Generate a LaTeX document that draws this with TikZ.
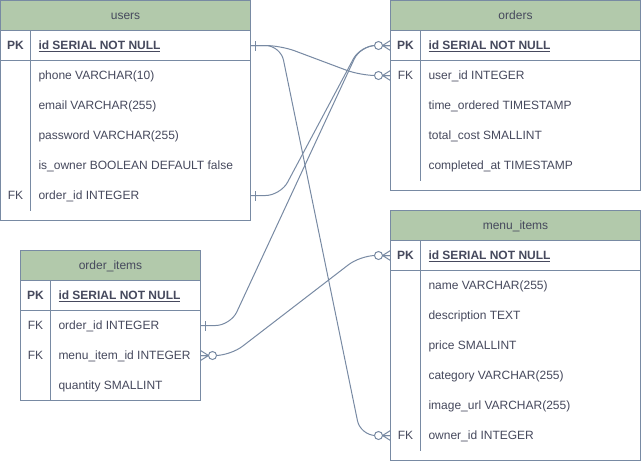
\documentclass[tikz,border=0pt]{standalone}
\usepackage{fontspec}
\setmainfont{Liberation Sans}
\definecolor{erline}{HTML}{788AA3}
\definecolor{erhead}{HTML}{B2C9AB}
\definecolor{ertext}{HTML}{46495D}
\tikzset{
  tbl/.style={draw=erline, line width=1pt, fill=white, inner sep=0pt, anchor=north west},
  hdr/.style={draw=erline, line width=1pt, fill=erhead, inner sep=0pt, anchor=north west,
              minimum height=30pt, text=ertext, text height=9pt, text depth=0.5pt},
  rowbox/.style={inner sep=0pt, anchor=north west, minimum height=30pt},
  keyt/.style={inner sep=0pt, anchor=center, text=ertext, text height=9pt, text depth=0.5pt},
  fldt/.style={inner sep=0pt, anchor=west, text=ertext, text height=9pt, text depth=0.5pt},
  erl/.style={draw=erline, line width=1pt},
  conn/.style={draw=erline, line width=1pt, rounded corners=15pt},
  pics/crowzm/.style={code={
     \draw[erl] (0pt,-5pt) -- (8pt,0pt) -- (0pt,5pt) (0pt,0pt) -- (8pt,0pt);
     \draw[erl, fill=white] (12pt,0pt) circle[radius=4pt];
  }},
  pics/mone/.style={code={
     \draw[erl] (5pt,-5pt) -- (5pt,5pt);
  }}
}
\newcommand\erow[6]{%
  \node[rowbox, minimum width=#4pt] (#1) at (#2,#3) {};
  \node[keyt] (#1-k) at ([xshift=15pt]#1.west) {#5};
  \node[fldt] (#1-f) at ([xshift=38pt]#1.west) {#6};
}
\newcommand\pkt[1]{\underline{\textbf{#1}}}
\begin{document}
\begin{tikzpicture}[x=1pt, y=-1pt, font=\fontsize{12}{14}\selectfont,
  every node/.append style={outer sep=0pt}]
\useasboundingbox (0,0) rectangle (641,461);

% ---------------- users
\node[tbl, minimum width=250pt, minimum height=220pt] (users) at (0.5,0.5) {};
\node[hdr, minimum width=250pt] (users-h) at (0.5,0.5) {users};
\erow{users-id}{0.5}{30.5}{250}{\textbf{PK}}{\pkt{id SERIAL NOT NULL}}
\erow{users-phone}{0.5}{60.5}{250}{}{phone VARCHAR(10)}
\erow{users-email}{0.5}{90.5}{250}{}{email VARCHAR(255)}
\erow{users-password}{0.5}{120.5}{250}{}{password VARCHAR(255)}
\erow{users-owner}{0.5}{150.5}{250}{}{is\_owner BOOLEAN DEFAULT false}
\erow{users-orderid}{0.5}{180.5}{250}{FK}{order\_id INTEGER}
\draw[erl] (users-id.south west) -- (users-id.south east);
\draw[erl] ([xshift=30pt]users-id.north west) -- ++(0,180);

% ---------------- orders
\node[tbl, minimum width=250pt, minimum height=190pt] (orders) at (390.5,0.5) {};
\node[hdr, minimum width=250pt] (orders-h) at (390.5,0.5) {orders};
\erow{orders-id}{390.5}{30.5}{250}{\textbf{PK}}{\pkt{id SERIAL NOT NULL}}
\erow{orders-userid}{390.5}{60.5}{250}{FK}{user\_id INTEGER}
\erow{orders-time}{390.5}{90.5}{250}{}{time\_ordered TIMESTAMP}
\erow{orders-cost}{390.5}{120.5}{250}{}{total\_cost SMALLINT}
\erow{orders-done}{390.5}{150.5}{250}{}{completed\_at TIMESTAMP}
\draw[erl] (orders-id.south west) -- (orders-id.south east);
\draw[erl] ([xshift=30pt]orders-id.north west) -- ++(0,150);

% ---------------- menu_items
\node[tbl, minimum width=250pt, minimum height=250pt] (menu) at (390.5,210.5) {};
\node[hdr, minimum width=250pt] (menu-h) at (390.5,210.5) {menu\_items};
\erow{menu-id}{390.5}{240.5}{250}{\textbf{PK}}{\pkt{id SERIAL NOT NULL}}
\erow{menu-name}{390.5}{270.5}{250}{}{name VARCHAR(255)}
\erow{menu-desc}{390.5}{300.5}{250}{}{description TEXT}
\erow{menu-price}{390.5}{330.5}{250}{}{price SMALLINT}
\erow{menu-cat}{390.5}{360.5}{250}{}{category VARCHAR(255)}
\erow{menu-img}{390.5}{390.5}{250}{}{image\_url VARCHAR(255)}
\erow{menu-owner}{390.5}{420.5}{250}{FK}{owner\_id INTEGER}
\draw[erl] (menu-id.south west) -- (menu-id.south east);
\draw[erl] ([xshift=30pt]menu-id.north west) -- ++(0,210);

% ---------------- order_items
\node[tbl, minimum width=180pt, minimum height=150pt] (oi) at (20.5,250.5) {};
\node[hdr, minimum width=180pt] (oi-h) at (20.5,250.5) {order\_items};
\erow{oi-id}{20.5}{280.5}{180}{\textbf{PK}}{\pkt{id SERIAL NOT NULL}}
\erow{oi-orderid}{20.5}{310.5}{180}{FK}{order\_id INTEGER}
\erow{oi-menuitem}{20.5}{340.5}{180}{FK}{menu\_item\_id INTEGER}
\erow{oi-qty}{20.5}{370.5}{180}{}{quantity SMALLINT}
\draw[erl] (oi-id.south west) -- (oi-id.south east);
\draw[erl] ([xshift=30pt]oi-id.north west) -- ++(0,120);

% ---------------- connectors
\draw[conn] (users-id.east) -- ([xshift=30pt]users-id.east)
   -- ([xshift=-30pt]orders-userid.west) -- (orders-userid.west);
\draw[conn] (users-id.east) -- ([xshift=30pt]users-id.east)
   -- ([xshift=-30pt]menu-owner.west) -- (menu-owner.west);
\draw[conn] (users-orderid.east) -- ([xshift=30pt]users-orderid.east)
   -- ([xshift=-30pt]orders-id.west) -- (orders-id.west);
\draw[conn] (oi-orderid.east) -- ([xshift=30pt]oi-orderid.east)
   -- ([xshift=-30pt]orders-id.west) -- (orders-id.west);
\draw[conn] (oi-menuitem.east) -- ([xshift=30pt]oi-menuitem.east)
   -- ([xshift=-30pt]menu-id.west) -- (menu-id.west);

% ---------------- end markers
\pic at (users-id.east) {mone};
\pic at (users-orderid.east) {mone};
\pic at (oi-orderid.east) {mone};
\pic at (oi-menuitem.east) {crowzm};
\pic[xscale=-1] at (orders-userid.west) {crowzm};
\pic[xscale=-1] at (orders-id.west) {crowzm};
\pic[xscale=-1] at (menu-owner.west) {crowzm};
\pic[xscale=-1] at (menu-id.west) {crowzm};
\end{tikzpicture}
\end{document}
